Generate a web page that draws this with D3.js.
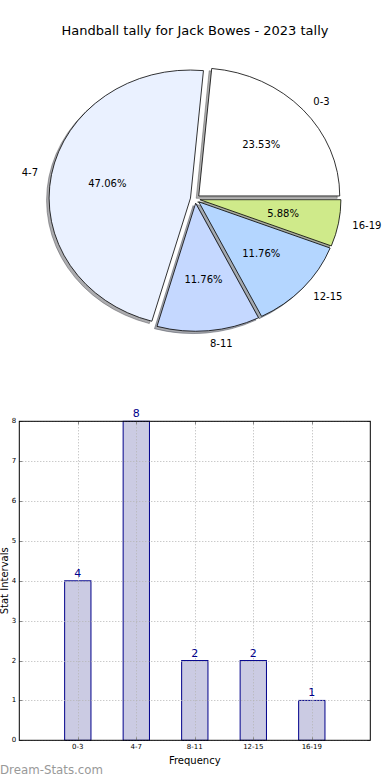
<!DOCTYPE html>
<html>
<head>
<meta charset="utf-8">
<script src="https://cdn.jsdelivr.net/npm/d3@7"></script>
<style>
  html, body { margin: 0; padding: 0; background: #fff; }
  svg { display: block; font-family: "DejaVu Sans", sans-serif; }
</style>
</head>
<body>
<svg id="chart" width="390" height="780"></svg>
<script>
// ---- data ----
const title = "Handball tally for Jack Bowes - 2023 tally";
const categories = ["0-3", "4-7", "8-11", "12-15", "16-19"];
const counts = [4, 8, 2, 2, 1];
const pieColors = ["#ffffff", "#eaf1ff", "#c5d8ff", "#b4d6ff", "#cfea8a"];
const yTicks = [0, 1, 2, 3, 4, 5, 6, 7, 8];
const xLabel = "Frequency";
const yLabel = "Stat Intervals";
const watermark = "Dream-Stats.com";

const svg = d3.select("#chart");
const total = d3.sum(counts);

// ---- title ----
svg.append("text").attr("x", 195).attr("y", 30).attr("text-anchor", "middle")
  .attr("dominant-baseline", "central").attr("font-size", 13).attr("fill", "#000")
  .text(title);

// ---- pie (elliptical, like a non-equal-aspect matplotlib pie) ----
const cx = 195.2, cy = 198.9, rx = 141, ry = 128, explode = 0.034, shadowOff = 0.018;
const pie = d3.pie().sort(null).startAngle(Math.PI / 2).endAngle(Math.PI / 2 - 2 * Math.PI);
const arcs = pie(counts);
const arcGen = d3.arc().innerRadius(0).outerRadius(1);

const pieG = svg.append("g");
function offs(d, k) {
  const m = (d.startAngle + d.endAngle) / 2;
  return [Math.sin(m) * k * rx, -Math.cos(m) * k * ry];
}
// shadows
arcs.forEach((d, i) => {
  const [ox, oy] = offs(d, explode);
  const c = d3.rgb(pieColors[i]);
  const sc = d3.rgb(c.r * 0.3, c.g * 0.3, c.b * 0.3);
  pieG.append("path")
    .attr("d", arcGen(d))
    .attr("transform", `translate(${cx + ox - shadowOff * rx},${cy + oy + shadowOff * ry}) scale(${rx},${ry})`)
    .attr("fill", sc).attr("fill-opacity", 0.45)
    .attr("stroke", sc).attr("stroke-opacity", 0.45).attr("stroke-width", 1)
    .attr("vector-effect", "non-scaling-stroke");
});
// wedges
arcs.forEach((d, i) => {
  const [ox, oy] = offs(d, explode);
  pieG.append("path")
    .attr("d", arcGen(d))
    .attr("transform", `translate(${cx + ox},${cy + oy}) scale(${rx},${ry})`)
    .attr("fill", pieColors[i]).attr("stroke", "#000").attr("stroke-width", 0.8)
    .attr("vector-effect", "non-scaling-stroke");
});
// labels
arcs.forEach((d, i) => {
  const [ox, oy] = offs(d, explode);
  const m = (d.startAngle + d.endAngle) / 2;
  const ux = Math.sin(m), uy = -Math.cos(m);
  const lx = cx + ox + 1.1 * rx * ux, ly = cy + oy + 1.1 * ry * uy;
  pieG.append("text").attr("x", lx).attr("y", ly)
    .attr("text-anchor", ux > 0 ? "start" : "end")
    .attr("dominant-baseline", "central").attr("font-size", 10).attr("fill", "#000")
    .text(categories[i]);
  const px = cx + ox + 0.6 * rx * ux, py = cy + oy + 0.6 * ry * uy;
  pieG.append("text").attr("x", px).attr("y", py)
    .attr("text-anchor", "middle").attr("dominant-baseline", "central")
    .attr("font-size", 10).attr("fill", "#000")
    .text((d.value / total * 100).toFixed(2) + "%");
});

// ---- bar chart ----
const L = 19.3, R = 370.3, T = 421.3, B = 740.3;
const x = d3.scaleLinear().domain([-1, categories.length]).range([L, R]);
const y = d3.scaleLinear().domain([0, 8]).range([B, T]);
const bw = 0.45;
const bg = svg.append("g");

bg.selectAll("rect.bar").data(counts).join("rect").attr("class", "bar")
  .attr("x", (d, i) => x(i - bw / 2)).attr("width", x(bw) - x(0))
  .attr("y", d => y(d)).attr("height", d => y(0) - y(d))
  .attr("fill", "#cbcbe3").attr("stroke", "#00008b").attr("stroke-width", 1);

// grid
const grid = bg.append("g").attr("stroke", "#b4b4b4").attr("stroke-width", 1).attr("stroke-dasharray", "1,2");
yTicks.forEach(t => grid.append("line").attr("x1", L).attr("x2", R).attr("y1", Math.round(y(t)) + 0.5).attr("y2", Math.round(y(t)) + 0.5));
categories.forEach((c, i) => grid.append("line").attr("x1", Math.round(x(i)) + 0.5).attr("x2", Math.round(x(i)) + 0.5).attr("y1", T).attr("y2", B));

// ticks (inward, small)
const tk = bg.append("g").attr("stroke", "#888").attr("stroke-width", 1);
yTicks.forEach(t => {
  const yy = Math.round(y(t)) + 0.5;
  tk.append("line").attr("x1", L).attr("x2", L + 3).attr("y1", yy).attr("y2", yy);
  tk.append("line").attr("x1", R - 3).attr("x2", R).attr("y1", yy).attr("y2", yy);
});
categories.forEach((c, i) => {
  const xx = Math.round(x(i)) + 0.5;
  tk.append("line").attr("x1", xx).attr("x2", xx).attr("y1", B).attr("y2", B - 3);
  tk.append("line").attr("x1", xx).attr("x2", xx).attr("y1", T).attr("y2", T + 3);
});

// frame
bg.append("rect").attr("x", L).attr("y", T).attr("width", R - L).attr("height", B - T)
  .attr("fill", "none").attr("stroke", "#000").attr("stroke-width", 1);

// value labels
bg.selectAll("text.val").data(counts).join("text").attr("class", "val")
  .attr("x", (d, i) => x(i)).attr("y", d => y(d) - 4)
  .attr("text-anchor", "middle").attr("font-size", 11).attr("fill", "#00008b")
  .text(d => d);

// tick labels
bg.selectAll("text.yt").data(yTicks).join("text").attr("class", "yt")
  .attr("x", L - 3).attr("y", d => y(d)).attr("text-anchor", "end")
  .attr("dominant-baseline", "central").attr("font-size", 7).attr("fill", "#000")
  .text(d => d);
bg.selectAll("text.xt").data(categories).join("text").attr("class", "xt")
  .attr("x", (d, i) => x(i)).attr("y", B + 7).attr("text-anchor", "middle")
  .attr("dominant-baseline", "central").attr("font-size", 7).attr("fill", "#000")
  .text(d => d);

// axis labels
bg.append("text").attr("x", (L + R) / 2).attr("y", 760).attr("text-anchor", "middle")
  .attr("dominant-baseline", "central").attr("font-size", 10).attr("fill", "#000").text(xLabel);
bg.append("text").attr("transform", `translate(8,${(T + B) / 2}) rotate(-90)`)
  .attr("text-anchor", "middle").attr("font-size", 10).attr("fill", "#000").text(yLabel);

// watermark
svg.append("text").attr("x", 0).attr("y", 770).attr("dominant-baseline", "central")
  .attr("font-size", 11.8).attr("fill", "#999").text(watermark);
</script>
</body>
</html>
